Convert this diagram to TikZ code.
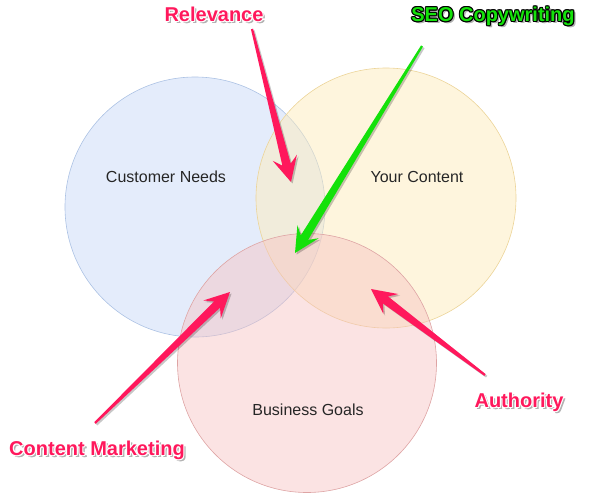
\documentclass[tikz,border=0pt]{standalone}
\usepackage{fontspec}
\setmainfont{Liberation Sans}
\usetikzlibrary{calc}

\definecolor{needblue}{RGB}{202,218,247}
\definecolor{needline}{RGB}{172,194,228}
\definecolor{contyellow}{RGB}{253,236,188}
\definecolor{contline}{RGB}{236,212,152}
\definecolor{goalpink}{RGB}{246,192,192}
\definecolor{goalline}{RGB}{222,164,164}
\definecolor{callpink}{RGB}{255,24,92}
\definecolor{callgreen}{RGB}{20,225,10}

% text with a halo and a soft drop shadow
\newcommand\halotext[3]{%
  \rlap{\color{black!30}\kern1.8pt\raisebox{-2pt}{#3}}%
  \rlap{\color{black!30}\kern2.4pt\raisebox{-1.4pt}{#3}}%
  \foreach \hx/\hy in {1.1/0,-1.1/0,0/1.1,0/-1.1,.8/.8,-.8/.8,.8/-.8,-.8/-.8}{%
    \rlap{\color{#1}\kern\hx pt\raisebox{\hy pt}{#3}}}%
  {\color{#2}#3}}

% tapered call-out arrow: name, tail, tip, colour
\newcommand\pointer[4]{%
  \coordinate (#1n) at ($(#3)!18pt!(#2)$);
  \coordinate (#1w) at ($(#3)!25pt!(#2)$);
  \coordinate (#1a) at ($(#2)!1.1pt!90:(#3)$);
  \coordinate (#1b) at ($(#1n)!4.3pt!90:(#3)$);
  \coordinate (#1c) at ($(#1w)!12.5pt!90:(#3)$);
  \coordinate (#1d) at ($(#1w)!12.5pt!-90:(#3)$);
  \coordinate (#1e) at ($(#1n)!4.3pt!-90:(#3)$);
  \coordinate (#1f) at ($(#2)!1.1pt!-90:(#3)$);
  \fill[black,opacity=.22] ([shift={(1.6,1.6)}]#1a) -- ([shift={(1.6,1.6)}]#1b)
    -- ([shift={(1.6,1.6)}]#1c) -- ([shift={(1.6,1.6)}]#3) -- ([shift={(1.6,1.6)}]#1d)
    -- ([shift={(1.6,1.6)}]#1e) -- ([shift={(1.6,1.6)}]#1f) -- cycle;
  \fill[#4] (#1a) -- (#1b) -- (#1c) -- (#3) -- (#1d) -- (#1e) -- (#1f) -- cycle;
}

\begin{document}
\begin{tikzpicture}[x=1pt,y=-1pt,
  inner/.style={font=\fontsize{16}{19}\selectfont,text=black!85},
  callout/.style={font=\bfseries\fontsize{20}{23}\selectfont,inner sep=0pt}]
\useasboundingbox (0,0) rectangle (591,501);

% the three sets
\filldraw[fill=needblue,fill opacity=.5,draw=needline,line width=.6pt] (195,207) circle (130);
\filldraw[fill=contyellow,fill opacity=.5,draw=contline,line width=.6pt] (386,198) circle (130);
\filldraw[fill=goalpink,fill opacity=.45,draw=goalline,line width=.6pt] (307,363) circle (129.5);

\node[inner] (needs) at (166,177) {Customer Needs};
\node[inner] (content) at (417,177) {Your Content};
\node[inner] (goals) at (308,410) {Business Goals};

% labels
\node[callout] (relevance) at (214,15) {\halotext{white}{callpink}{Relevance}};
\node[callout] (seo) at (493,17) {\halotext{black}{callgreen}{SEO Copywriting}};
\node[callout] (marketing) at (97,451) {\halotext{white}{callpink}{Content Marketing}};
\node[callout] (authority) at (519,403) {\halotext{white}{callpink}{Authority}};

% arrow ends
\coordinate (relevanceTail) at (252,29);
\coordinate (relevanceTip) at (291,182);
\coordinate (seoTail) at (422,46);
\coordinate (seoTip) at (295,253);
\coordinate (marketingTail) at (95,423);
\coordinate (marketingTip) at (230,292);
\coordinate (authorityTail) at (485,375);
\coordinate (authorityTip) at (371,289);

\pointer{r}{relevanceTail}{relevanceTip}{callpink}
\pointer{s}{seoTail}{seoTip}{callgreen}
\pointer{m}{marketingTail}{marketingTip}{callpink}
\pointer{a}{authorityTail}{authorityTip}{callpink}
\end{tikzpicture}
\end{document}
